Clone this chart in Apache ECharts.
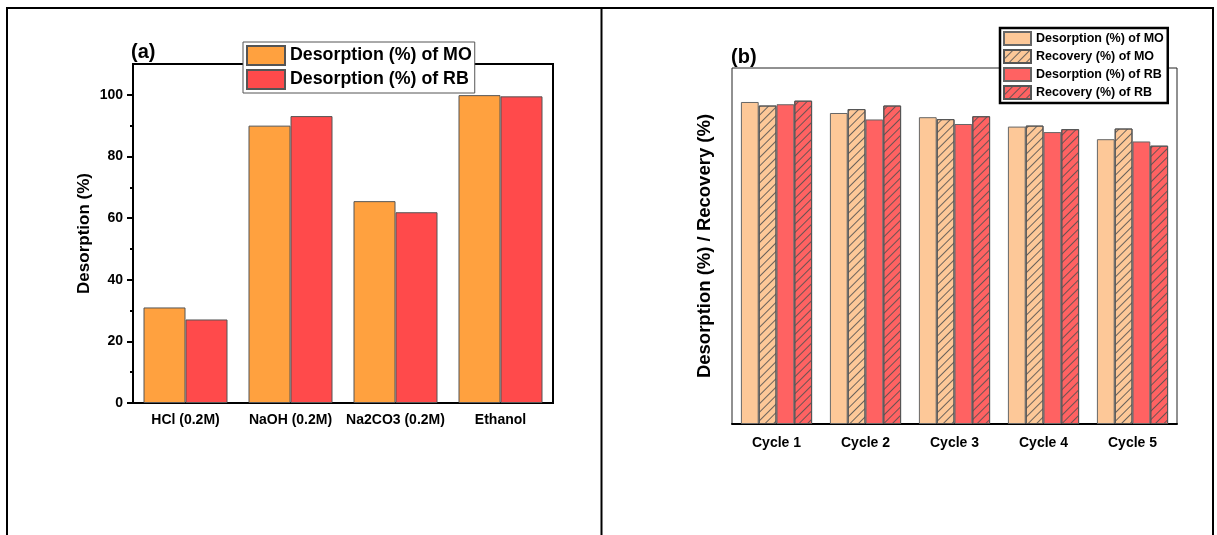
<!DOCTYPE html>
<html>
<head>
<meta charset="utf-8">
<title>Desorption and recovery</title>
<script src="https://cdn.jsdelivr.net/npm/echarts@6/dist/echarts.min.js"></script>
<style>
  html, body { margin: 0; padding: 0; background: #fff; }
  #chart { width: 1217px; height: 535px; }
</style>
</head>
<body>
<div id="chart"></div>
<script>
// Panel (a): eluent screening
const eluents = ['HCl (0.2M)', 'NaOH (0.2M)', 'Na2CO3 (0.2M)', 'Ethanol'];
const desorptionMO = [31.0, 90.0, 65.5, 99.9];
const desorptionRB = [27.1, 93.1, 61.9, 99.5];
const yMajorTicksA = [0, 20, 40, 60, 80, 100];
const yMinorTicksA = [10, 30, 50, 70, 90];

// Panel (b): reuse cycles
const cycles = ['Cycle 1', 'Cycle 2', 'Cycle 3', 'Cycle 4', 'Cycle 5'];
const cycleDesorptionMO = [99.5, 96.1, 94.8, 91.9, 88.0];
const cycleRecoveryMO = [98.4, 97.3, 94.2, 92.2, 91.3];
const cycleDesorptionRB = [98.8, 94.1, 92.7, 90.2, 87.3];
const cycleRecoveryRB = [99.9, 98.4, 95.1, 91.1, 86.0];

const namesA = ['Desorption (%) of MO', 'Desorption (%) of RB'];
const namesB = ['Desorption (%) of MO', 'Recovery (%) of MO', 'Desorption (%) of RB', 'Recovery (%) of RB'];
const seriesKeysB = ['cycle-des-MO', 'cycle-rec-MO', 'cycle-des-RB', 'cycle-rec-RB'];

const FONT = 'Liberation Sans, Arial, Helvetica, sans-serif';
const chart = echarts.init(document.getElementById('chart'), null, { renderer: 'canvas' });

// Diagonal hatching for the recovery bars
const hatch = {
  symbol: 'rect',
  symbolSize: 1,
  dashArrayX: [1, 0],
  dashArrayY: [1, 5],
  rotation: -Math.PI / 4,
  color: 'rgba(80,80,80,0.85)'
};

function boldText(size) {
  return { color: '#000', fontWeight: 'bold', fontSize: size, fontFamily: FONT };
}

const option = {
  backgroundColor: '#fff',
  animation: false,
  title: [
    { text: '(a)', left: 131, top: 42, padding: 0, textStyle: boldText(20) },
    { text: '(b)', left: 731, top: 47, padding: 0, textStyle: boldText(20) }
  ],
  legend: [
    {
      data: namesA,
      orient: 'vertical',
      left: 243, top: 42,
      itemWidth: 38, itemHeight: 19, itemGap: 3,
      padding: [3, 3, 3, 3],
      icon: 'rect',
      backgroundColor: '#fff',
      borderColor: '#555', borderWidth: 1,
      textStyle: boldText(17.8),
      selectedMode: false
    },
    {
      data: seriesKeysB,
      orient: 'vertical',
      left: 1000, top: 28,
      itemWidth: 27, itemHeight: 13, itemGap: 3,
      padding: [3, 4, 3, 3],
      icon: 'rect',
      backgroundColor: '#fff',
      borderColor: '#000', borderWidth: 2.5,
      textStyle: boldText(12.5),
      formatter: function (key) { return namesB[seriesKeysB.indexOf(key)]; },
      selectedMode: false
    }
  ],
  grid: [
    { left: 133, top: 64, right: 664, bottom: 132, show: true, borderColor: '#000', borderWidth: 2, backgroundColor: 'transparent' },
    { left: 732, top: 68, right: 40, bottom: 111, show: true, borderColor: '#222', borderWidth: 1, backgroundColor: 'transparent' }
  ],
  xAxis: [
    {
      gridIndex: 0, type: 'category', data: eluents, position: 'bottom',
      axisLine: { lineStyle: { color: '#000', width: 2 } },
      axisTick: { alignWithLabel: true, length: 5, lineStyle: { color: '#000', width: 2 } },
      axisLabel: Object.assign({ margin: 10, interval: 0 }, boldText(14))
    },
    {
      gridIndex: 0, type: 'category', data: eluents, position: 'bottom',
      axisLine: { show: false },
      axisTick: { alignWithLabel: false, interval: 0, length: 3, lineStyle: { color: '#000', width: 2 } },
      axisLabel: { show: false }
    },
    {
      gridIndex: 1, type: 'category', data: cycles, position: 'bottom',
      axisLine: { lineStyle: { color: '#000', width: 2 } },
      axisTick: { alignWithLabel: true, length: 5, lineStyle: { color: '#000', width: 2 } },
      axisLabel: Object.assign({ margin: 12, interval: 0 }, boldText(14))
    },
    {
      gridIndex: 1, type: 'category', data: cycles, position: 'bottom',
      axisLine: { show: false },
      axisTick: { alignWithLabel: false, interval: 0, length: 3, lineStyle: { color: '#000', width: 2 } },
      axisLabel: { show: false }
    }
  ],
  yAxis: [
    {
      gridIndex: 0, type: 'value', min: 0, max: 110, position: 'left',
      name: 'Desorption (%)', nameLocation: 'middle', nameGap: 40,
      nameTextStyle: boldText(17),
      axisLine: { show: true, lineStyle: { color: '#000', width: 2 } },
      axisTick: { show: true, customValues: yMajorTicksA, length: 6, lineStyle: { color: '#000', width: 2 } },
      axisLabel: Object.assign({ customValues: yMajorTicksA, margin: 10 }, boldText(14)),
      splitLine: { show: false }
    },
    {
      gridIndex: 0, type: 'value', min: 0, max: 110, position: 'left',
      axisLine: { show: false },
      axisTick: { show: true, customValues: yMinorTicksA, length: 3, lineStyle: { color: '#000', width: 2 } },
      axisLabel: { show: false },
      splitLine: { show: false }
    },
    {
      gridIndex: 1, type: 'value', min: 0, max: 110, position: 'left',
      name: 'Desorption (%) / Recovery (%)', nameLocation: 'middle', nameGap: 18,
      nameTextStyle: boldText(18.5),
      axisLine: { show: false },
      axisTick: { show: false },
      axisLabel: { show: false },
      splitLine: { show: false }
    }
  ],
  series: [
    {
      name: namesA[0], type: 'bar', xAxisIndex: 0, yAxisIndex: 0,
      data: desorptionMO, barGap: 0, barCategoryGap: '20%',
      itemStyle: { color: '#FFA13F', borderColor: '#555', borderWidth: 1 }
    },
    {
      name: namesA[1], type: 'bar', xAxisIndex: 0, yAxisIndex: 0,
      data: desorptionRB, barGap: 0, barCategoryGap: '20%',
      itemStyle: { color: '#FF4A4B', borderColor: '#555', borderWidth: 1 }
    },
    {
      name: seriesKeysB[0], type: 'bar', xAxisIndex: 2, yAxisIndex: 2,
      data: cycleDesorptionMO, barGap: 0, barCategoryGap: '20%',
      itemStyle: { color: '#FDC898', borderColor: '#666', borderWidth: 1 }
    },
    {
      name: seriesKeysB[1], type: 'bar', xAxisIndex: 2, yAxisIndex: 2,
      data: cycleRecoveryMO, barGap: 0, barCategoryGap: '20%',
      itemStyle: { color: '#FDC898', borderColor: '#555', borderWidth: 1, decal: hatch }
    },
    {
      name: seriesKeysB[2], type: 'bar', xAxisIndex: 2, yAxisIndex: 2,
      data: cycleDesorptionRB, barGap: 0, barCategoryGap: '20%',
      itemStyle: { color: '#FF6262', borderColor: '#666', borderWidth: 1 }
    },
    {
      name: seriesKeysB[3], type: 'bar', xAxisIndex: 2, yAxisIndex: 2,
      data: cycleRecoveryRB, barGap: 0, barCategoryGap: '20%',
      itemStyle: { color: '#FF6262', borderColor: '#555', borderWidth: 1, decal: hatch }
    }
  ],
  // Outer frame of the two-panel figure
  graphic: [
    { type: 'line', shape: { x1: 6, y1: 8, x2: 1214, y2: 8 }, style: { stroke: '#000', lineWidth: 2 }, silent: true },
    { type: 'line', shape: { x1: 7, y1: 7, x2: 7, y2: 535 }, style: { stroke: '#000', lineWidth: 2 }, silent: true },
    { type: 'line', shape: { x1: 601.5, y1: 7, x2: 601.5, y2: 535 }, style: { stroke: '#000', lineWidth: 2 }, silent: true },
    { type: 'line', shape: { x1: 1213, y1: 7, x2: 1213, y2: 535 }, style: { stroke: '#000', lineWidth: 2 }, silent: true }
  ]
};

chart.setOption(option);
</script>
</body>
</html>
